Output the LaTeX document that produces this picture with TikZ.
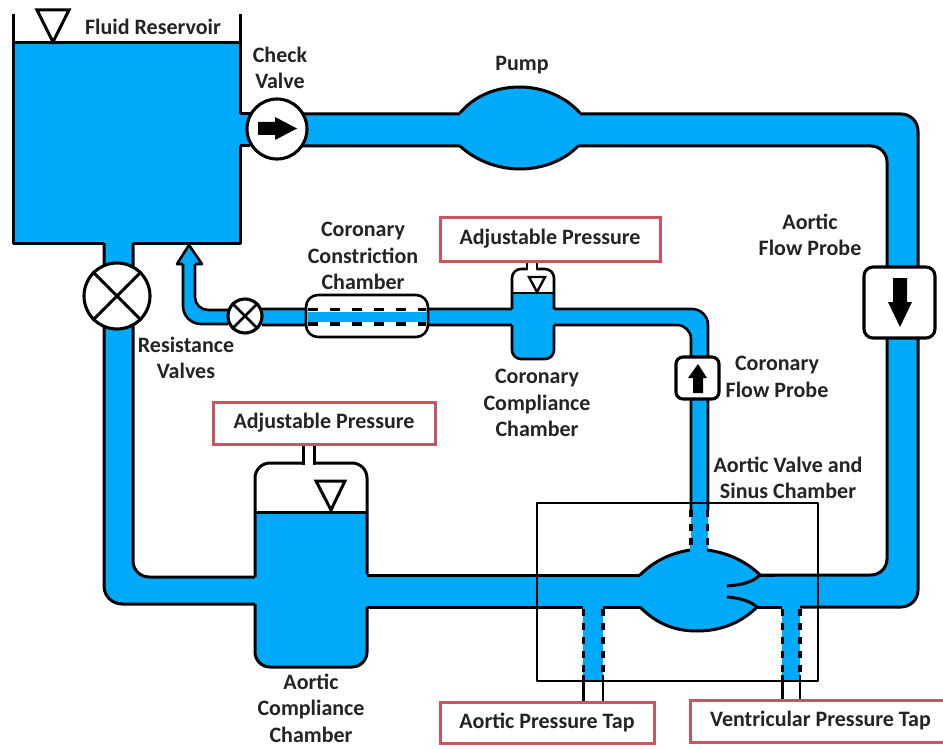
\documentclass[tikz,border=0pt]{standalone}
\usepackage{fontspec}
\setmainfont{Carlito}
\definecolor{water}{RGB}{0,170,250}
\definecolor{redbox}{RGB}{200,85,95}
\definecolor{ink}{RGB}{35,35,40}
\tikzset{
  wall/.style={draw=black,line width=3,line join=round},
  thinwall/.style={draw=black,line width=2.6,line join=round},
  dashwall/.style={draw=black,line width=3.2,dash pattern=on 7 off 7},
  label/.style={font=\fontsize{22}{26.5}\selectfont\bfseries,text=ink,align=center,inner sep=0},
  tagbox/.style={draw=redbox,line width=3,fill=white,font=\fontsize{22}{26}\selectfont\bfseries,text=ink,inner sep=0},
  valvebox/.style={draw=black,line width=3.1,fill=white,circle,inner sep=0},
  probebox/.style={draw=black,line width=3.1,fill=white,rounded corners=9,inner sep=0},
  level/.style={draw=black,line width=3,fill=white,line join=miter}
}
\begin{document}
\begin{tikzpicture}[x=1pt,y=-1pt]
\useasboundingbox (0,0) rectangle (943,749);
\fill[white] (0,0) rectangle (943,749);
% ---- water in pipes
\fill[water] (225,114) [rounded corners=17] -- (918,114) -- (918,607) [sharp corners] -- (367,607) -- (367,575) [rounded corners=16] -- (887,575) -- (887,146) [sharp corners] -- (225,146) -- cycle;
\fill[water] (300,604) [rounded corners=18] -- (104,604) -- (104,230) [sharp corners] -- (133,230) [rounded corners=16] -- (133,577) [sharp corners] -- (300,577) -- cycle;
\fill[water] (250,309) -- (692,309) [rounded corners=16] -- (708,309) [sharp corners] -- (708,560) -- (691,560) [rounded corners=14] -- (691,325) [sharp corners] -- (250,325) -- cycle;
\fill[water] (583,600) rectangle (603,682);
\fill[water] (782,600) rectangle (800,682);
\fill[water] (250,310) [rounded corners=13] -- (195,310) -- (195,280) -- (183,280) [rounded corners=18] -- (183,324) [sharp corners] -- (250,324) -- cycle;
\fill[water] (183,260) rectangle (195,295);
\fill[water] (189,245) -- (202,265) -- (177,265) -- cycle;
% ---- pipe edges
\draw[wall] (240,114) -- (250,114);
\draw[wall] (240,146) -- (250,146);
\draw[wall,rounded corners=17] (300,114) -- (918,114) -- (918,607) -- (800,607);
\draw[wall,rounded corners=16] (300,146) -- (887,146) -- (887,575) -- (750,575);
\draw[wall] (782,607) -- (750,607);
\draw[wall] (367,575) -- (645,575);
\draw[wall] (367,607) -- (583,607);
\draw[wall] (603,607) -- (645,607);
\draw[wall,rounded corners=18] (104,243) -- (104,604) -- (255,604);
\draw[wall,rounded corners=16] (133,243) -- (133,577) -- (255,577);
\draw[thinwall,rounded corners=16] (262,309) -- (708,309) -- (708,510);
\draw[thinwall,rounded corners=14] (262,325) -- (691,325) -- (691,510);
\draw[thinwall,rounded corners=13] (228,310) -- (195,310) -- (195,264);
\draw[thinwall] (195,264) -- (202,264) -- (189,245) -- (177,264) -- (183,264);
\draw[thinwall,rounded corners=18] (183,264) -- (183,324) -- (228,324);
% ---- reservoir
\fill[water] (13,43) rectangle (240,243);
\draw[wall] (13,14) -- (13,243) -- (104,243);
\draw[wall] (133,243) -- (240,243) -- (240,146);
\draw[wall] (240,14) -- (240,114);
\draw[wall] (13,43) -- (240,43);
\draw[level] (37,10) -- (69,10) -- (53,42) -- cycle;
% ---- pump
\fill[water] (460,113) .. controls (475,95) and (497,87) .. (520,87) .. controls (543,87) and (566,97) .. (580,113) -- (578,146) .. controls (565,160) and (543,169) .. (520,169) .. controls (497,169) and (475,160) .. (460,146) -- cycle;
\draw[wall] (460,113) .. controls (475,95) and (497,87) .. (520,87) .. controls (543,87) and (566,97) .. (580,113);
\draw[wall] (460,146) .. controls (475,160) and (497,169) .. (520,169) .. controls (543,169) and (565,160) .. (578,146);
% ---- aortic compliance chamber
\fill[white,rounded corners=15] (255,530) -- (255,463) -- (367,463) -- (367,530) -- cycle;
\fill[water,rounded corners=15] (255,530) -- (255,667) -- (367,667) -- (367,530) -- cycle;
\fill[water] (255,512) rectangle (367,540);
\draw[wall,rounded corners=15] (255,577) -- (255,463) -- (303,463);
\draw[wall,rounded corners=15] (367,574) -- (367,463) -- (314,463);
\draw[wall] (303,464.5) -- (303,445);
\draw[wall] (314,464.5) -- (314,445);
\draw[wall,rounded corners=15] (255,604) -- (255,667) -- (367,667) -- (367,607);
\draw[wall] (255,512) -- (367,512);
\draw[level] (316,481) -- (345,481) -- (331,510) -- cycle;
% ---- coronary compliance chamber
\fill[white,rounded corners=9] (512,320) -- (512,269) -- (554,269) -- (554,320) -- cycle;
\fill[water,rounded corners=9] (512,320) -- (512,359) -- (554,359) -- (554,320) -- cycle;
\fill[water] (512,293) rectangle (554,330);
\draw[thinwall,rounded corners=9] (512,309) -- (512,269) -- (527,269);
\draw[thinwall,rounded corners=9] (554,309) -- (554,269) -- (537,269);
\draw[thinwall] (527,270) -- (527,262);
\draw[thinwall] (537,270) -- (537,262);
\draw[thinwall,rounded corners=9] (512,325) -- (512,359) -- (554,359) -- (554,325);
\draw[thinwall] (512,293) -- (554,293);
\draw[level,line width=2.4] (529,277) -- (545,277) -- (537,292) -- cycle;
% ---- constriction chamber
\draw[thinwall,fill=white,rounded corners=12] (306,295) rectangle (428,337);
\fill[water] (307.5,312) rectangle (426.5,322);
\draw[draw=black,line width=3.2,dash pattern=on 10 off 12] (308,309.5) -- (426,309.5);
\draw[draw=black,line width=3.2,dash pattern=on 10 off 12] (308,324) -- (426,324);
% ---- aortic valve and sinus chamber
\fill[water] (640,575) .. controls (655,560) and (672,553) .. (690,550) -- (690,540) -- (707,540) -- (707,550) .. controls (730,553) and (748,563) .. (760,575) -- (770,575) -- (770,607) -- (757,607) .. controls (742,622) and (722,631) .. (697,631) .. controls (672,631) and (655,622) .. (640,607) -- cycle;
\draw[wall] (640,575) .. controls (655,560) and (672,553) .. (690,550);
\draw[wall] (707,550) .. controls (730,553) and (748,563) .. (760,575);
\draw[wall] (640,607) .. controls (655,622) and (672,631) .. (697,631) .. controls (722,631) and (742,622) .. (757,607);
\draw[wall] (760,575) .. controls (752,583) and (740,585) .. (727,586);
\draw[wall] (757,607) .. controls (750,601) and (740,598) .. (727,597);
\draw[wall] (760,575) -- (775,575);
\draw[wall] (757,607) -- (782,607);
% ---- stems through the box
\draw[dashwall] (691,510) -- (691,551);
\draw[dashwall] (707.5,510) -- (707.5,551);
\draw[dashwall] (583.5,609) -- (583.5,675);
\draw[dashwall] (603,609) -- (603,675);
\draw[dashwall] (782.5,609) -- (782.5,675);
\draw[dashwall] (800,609) -- (800,675);
\draw[thinwall] (583.5,675) -- (583.5,702);
\draw[thinwall] (603,675) -- (603,702);
\draw[thinwall] (782.5,675) -- (782.5,700);
\draw[thinwall] (800,675) -- (800,700);
\draw[thinwall] (537,503) rectangle (818,681);
% ---- valves
\node[valvebox,minimum size=60] (check) at (277,129) {};
\node[valvebox,minimum size=66] (rbig) at (117,296) {};
\node[valvebox,minimum size=34] (rsmall) at (245,316) {};
\draw[line width=3] (rbig.45) -- (rbig.225) (rbig.135) -- (rbig.315);
\draw[line width=2.6] (rsmall.45) -- (rsmall.225) (rsmall.135) -- (rsmall.315);
\fill[black] (258,122) -- (275,122) -- (275,117) -- (297,128.5) -- (275,140) -- (275,135) -- (258,135) -- cycle;
% ---- probes
\node[probebox,minimum width=71,minimum height=71] (aprobe) at (899.5,302.5) {};
\node[probebox,minimum width=43,minimum height=42,rounded corners=7] (cprobe) at (697.5,378) {};
\fill[black] (893,278) -- (907,278) -- (907,302) -- (912,302) -- (900,327) -- (888,302) -- (893,302) -- cycle;
\fill[black] (698,364) -- (707,378) -- (703,378) -- (703,393) -- (693,393) -- (693,378) -- (688,378) -- cycle;
% ---- tag boxes
\node[tagbox,minimum width=222,minimum height=42] (tagA) at (324,423) {Adjustable Pressure};
\node[tagbox,minimum width=220,minimum height=44] (tagC) at (550,239) {Adjustable Pressure};
\node[tagbox,minimum width=214,minimum height=41] (tagAT) at (547,722.5) {Aortic Pressure Tap};
\node[tagbox,minimum width=270,minimum height=42,anchor=west] (tagVT) at (689,721) {\hspace*{-10pt}Ventricular Pressure Tap};
% ---- labels
\node[label] (lres) at (153,27) {Fluid Reservoir};
\node[label] (lcheck) at (280,68) {Check\\Valve};
\node[label] (lpump) at (522,65) {Pump};
\node[label] (lcons) at (363,256) {Coronary\\Constriction\\Chamber};
\node[label] (lafp) at (810,235) {Aortic\\Flow Probe};
\node[label] (lcfp) at (777,377) {Coronary\\Flow Probe};
\node[label] (lrv) at (186,358) {Resistance\\Valves};
\node[label] (lccc) at (537,403) {Coronary\\Compliance\\Chamber};
\node[label] (lavs) at (788,478) {Aortic Valve and\\Sinus Chamber};
\node[label] (lacc) at (311,708) {Aortic\\Compliance\\Chamber};
\end{tikzpicture}
\end{document}
